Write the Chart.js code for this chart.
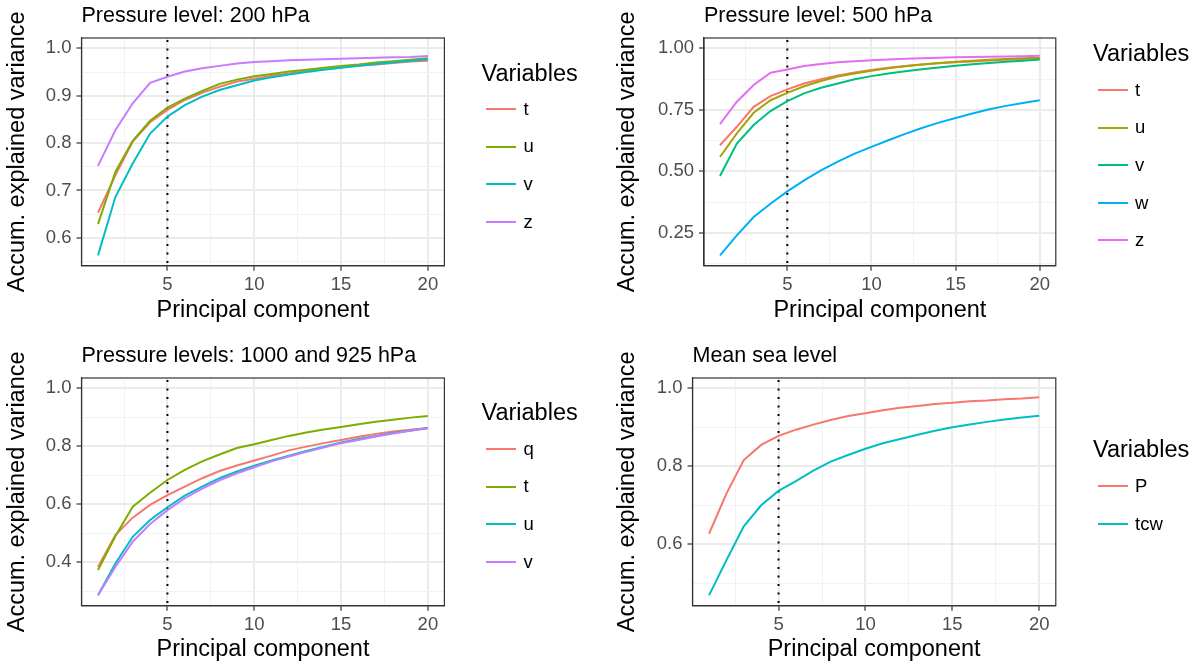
<!DOCTYPE html>
<html>
<head>
<meta charset="utf-8">
<script src="https://cdn.jsdelivr.net/npm/chart.js@4.4.1/dist/chart.umd.min.js"></script>
<style>
    body { margin: 0; background: #fff; font-family: 'Liberation Sans', Arial, sans-serif; }
    #wrap { position: relative; width: 1200px; height: 666px; overflow: hidden; }
    #wrap canvas { position: absolute; }
    .ptitle { position: absolute; font-size: 21.5px; line-height: 1; white-space: nowrap; color: #000; }
    .ltitle { position: absolute; font-size: 23.5px; line-height: 1; white-space: nowrap; color: #000; }
    .litem { position: absolute; height: 18.5px; line-height: 18.5px; font-size: 18.5px; white-space: nowrap; color: #000; }
    .litem span { position: absolute; top: 8.25px; width: 30px; height: 2px; }
</style>
</head>
<body>
<div id="wrap"></div>
<script>
'use strict';

var pcs = [1, 2, 3, 4, 5, 6, 7, 8, 9, 10, 11, 12, 13, 14, 15, 16, 17, 18, 19, 20];
var cutoffPC = 5;
var xTicks = ['5', '10', '15', '20'];

// Pressure level: 200 hPa
var vars200 = ['t', 'u', 'v', 'z'];
var t200 = [0.653, 0.732, 0.803, 0.844, 0.870, 0.891, 0.906, 0.919, 0.930, 0.936, 0.942, 0.947, 0.952, 0.956, 0.960, 0.963, 0.966, 0.969, 0.972, 0.974];
var u200 = [0.629, 0.739, 0.805, 0.847, 0.875, 0.894, 0.910, 0.925, 0.934, 0.941, 0.946, 0.951, 0.955, 0.959, 0.963, 0.966, 0.970, 0.973, 0.976, 0.979];
var v200 = [0.563, 0.686, 0.757, 0.820, 0.856, 0.880, 0.898, 0.912, 0.922, 0.932, 0.939, 0.945, 0.950, 0.955, 0.959, 0.963, 0.967, 0.970, 0.974, 0.977];
var z200 = [0.752, 0.827, 0.884, 0.927, 0.940, 0.951, 0.958, 0.963, 0.968, 0.971, 0.973, 0.975, 0.976, 0.977, 0.978, 0.979, 0.980, 0.981, 0.982, 0.984];
var yTicks200 = ['0.6', '0.7', '0.8', '0.9', '1.0'];

// Pressure level: 500 hPa
var vars500 = ['t', 'u', 'v', 'w', 'z'];
var t500 = [0.606, 0.681, 0.762, 0.806, 0.833, 0.857, 0.874, 0.890, 0.902, 0.912, 0.921, 0.928, 0.934, 0.939, 0.943, 0.947, 0.951, 0.954, 0.957, 0.959];
var u500 = [0.558, 0.654, 0.738, 0.789, 0.819, 0.846, 0.867, 0.885, 0.898, 0.909, 0.919, 0.927, 0.934, 0.940, 0.945, 0.950, 0.954, 0.957, 0.960, 0.962];
var v500 = [0.481, 0.613, 0.688, 0.745, 0.785, 0.817, 0.840, 0.857, 0.874, 0.887, 0.898, 0.907, 0.915, 0.922, 0.929, 0.935, 0.940, 0.945, 0.950, 0.955];
var w500 = [0.158, 0.239, 0.314, 0.368, 0.418, 0.463, 0.504, 0.539, 0.572, 0.599, 0.626, 0.652, 0.676, 0.698, 0.717, 0.735, 0.752, 0.766, 0.778, 0.789];
var z500 = [0.692, 0.783, 0.851, 0.901, 0.914, 0.928, 0.936, 0.943, 0.948, 0.952, 0.955, 0.958, 0.960, 0.962, 0.964, 0.965, 0.966, 0.967, 0.968, 0.970];
var yTicks500 = ['0.25', '0.50', '0.75', '1.00'];

// Pressure levels: 1000 and 925 hPa
var varsLow = ['q', 't', 'u', 'v'];
var qLow = [0.384, 0.494, 0.554, 0.598, 0.632, 0.661, 0.690, 0.715, 0.734, 0.751, 0.768, 0.786, 0.799, 0.811, 0.822, 0.833, 0.843, 0.851, 0.857, 0.863];
var tLow = [0.373, 0.490, 0.592, 0.640, 0.684, 0.719, 0.748, 0.772, 0.794, 0.807, 0.822, 0.836, 0.848, 0.858, 0.867, 0.876, 0.885, 0.892, 0.899, 0.905];
var uLow = [0.286, 0.396, 0.488, 0.546, 0.590, 0.630, 0.661, 0.690, 0.713, 0.733, 0.751, 0.768, 0.784, 0.799, 0.813, 0.825, 0.836, 0.846, 0.855, 0.863];
var vLow = [0.286, 0.384, 0.471, 0.532, 0.580, 0.621, 0.654, 0.683, 0.707, 0.728, 0.748, 0.765, 0.781, 0.796, 0.811, 0.822, 0.834, 0.844, 0.854, 0.862];
var yTicksLow = ['0.4', '0.6', '0.8', '1.0'];

// Mean sea level
var varsMsl = ['P', 'tcw'];
var pMsl = [0.627, 0.730, 0.816, 0.855, 0.878, 0.894, 0.907, 0.919, 0.929, 0.936, 0.944, 0.950, 0.955, 0.960, 0.963, 0.967, 0.969, 0.972, 0.974, 0.977];
var tcwMsl = [0.469, 0.559, 0.646, 0.700, 0.737, 0.762, 0.789, 0.812, 0.829, 0.845, 0.859, 0.870, 0.881, 0.891, 0.900, 0.907, 0.914, 0.920, 0.925, 0.930];
var yTicksMsl = ['0.6', '0.8', '1.0'];

// ggplot hue palettes
var hue2 = ['#F8766D', '#00BFC4'];
var hue4 = ['#F8766D', '#7CAE00', '#00BFC4', '#C77CFF'];
var hue5 = ['#F8766D', '#A3A500', '#00BF7D', '#00B0F6', '#E76BF3'];

var FONT = "'Liberation Sans', Arial, sans-serif";
Chart.defaults.font.family = FONT;

var panels = [
    {
        title: 'Pressure level: 200 hPa', names: vars200, series: [t200, u200, v200, z200], colors: hue4, yTicks: yTicks200,
        x: 0, y: 0, box: { left: 81.5, top: 38, right: 444.4, bottom: 265.7 }, yTitlePad: 5.5, xTitlePad: 11,
        legend: { left: 481.5, top: 61.8, key0: 109, step: 37.6 }
    },
    {
        title: 'Pressure level: 500 hPa', names: vars500, series: [t500, u500, v500, w500, z500], colors: hue5, yTicks: yTicks500,
        x: 600, y: 0, box: { left: 104, top: 38, right: 455.8, bottom: 265.7 }, yTitlePad: 15.5, xTitlePad: 11,
        legend: { left: 493, top: 41.8, key0: 90, step: 37.6 }
    },
    {
        title: 'Pressure levels: 1000 and 925 hPa', names: varsLow, series: [qLow, tLow, uLow, vLow], colors: hue4, yTicks: yTicksLow,
        x: 0, y: 333, box: { left: 81.5, top: 45, right: 444.4, bottom: 272.7 }, yTitlePad: 5.5, xTitlePad: 4.5,
        legend: { left: 481.5, top: 67.8, key0: 116, step: 37.6 }
    },
    {
        title: 'Mean sea level', names: varsMsl, series: [pMsl, tcwMsl], colors: hue2, yTicks: yTicksMsl,
        x: 600, y: 333, box: { left: 92.5, top: 45, right: 455.8, bottom: 272.7 }, yTitlePad: 15.5, xTitlePad: 4.5,
        legend: { left: 493, top: 105.1, key0: 153.3, step: 37.7 }
    }
];

var W = 600, H = 333;

function keyOf(v) { return v.toFixed(4); }

function buildTicks(labels, lo, hi) {
    var major = labels.map(parseFloat);
    var step = major[1] - major[0];
    var all = major.slice();
    for (var i = 0; i < major.length - 1; i++) all.push((major[i] + major[i + 1]) / 2);
    if (major[0] - step / 2 >= lo) all.push(major[0] - step / 2);
    if (major[major.length - 1] + step / 2 <= hi) all.push(major[major.length - 1] + step / 2);
    all.sort(function (a, b) { return a - b; });
    var map = {};
    major.forEach(function (v, i) { map[keyOf(v)] = labels[i]; });
    return { all: all, map: map };
}

var panelPlugin = {
    id: 'panelDeco',
    beforeDatasetsDraw: function (chart) {
        var a = chart.chartArea, ctx = chart.ctx;
        var px = chart.scales.x.getPixelForValue(cutoffPC);
        ctx.save();
        ctx.strokeStyle = '#000';
        ctx.lineWidth = 2;
        ctx.setLineDash([2, 6.5]);
        ctx.beginPath();
        ctx.moveTo(px, a.top + 2);
        ctx.lineTo(px, a.bottom);
        ctx.stroke();
        ctx.restore();
    },
    afterDatasetsDraw: function (chart) {
        var a = chart.chartArea, ctx = chart.ctx;
        ctx.save();
        ctx.strokeStyle = '#333333';
        ctx.lineWidth = 1.2;
        ctx.strokeRect(a.left, a.top, a.right - a.left, a.bottom - a.top);
        ctx.restore();
    }
};

function makePanel(p) {
    var wrap = document.getElementById('wrap');
    var canvas = document.createElement('canvas');
    canvas.width = W;
    canvas.height = H;
    canvas.style.left = p.x + 'px';
    canvas.style.top = p.y + 'px';
    wrap.appendChild(canvas);

    var lo = Math.min.apply(null, p.series.map(function (s) { return Math.min.apply(null, s); }));
    var hi = 1;
    var pad = (hi - lo) * 0.05;
    var yMin = lo - pad, yMax = hi + pad;
    var xPad = (pcs[pcs.length - 1] - pcs[0]) * 0.05;

    var yt = buildTicks(p.yTicks, yMin, yMax);
    var xt = buildTicks(xTicks, pcs[0] - xPad, pcs[pcs.length - 1] + xPad);

    var datasets = p.series.map(function (s, i) {
        return {
            label: p.names[i],
            data: pcs.map(function (x, j) { return { x: x, y: s[j] }; }),
            borderColor: p.colors[i],
            backgroundColor: p.colors[i],
            borderWidth: 2,
            pointRadius: 0,
            tension: 0,
            fill: false,
            order: p.series.length - i
        };
    });

    function gridOpts(map) {
        return {
            color: function (c) { return map[keyOf(c.tick.value)] ? '#EBEBEB' : '#F2F2F2'; },
            lineWidth: function (c) { return map[keyOf(c.tick.value)] ? 2 : 1; },
            tickLength: 5,
            tickWidth: 1.2,
            tickColor: function (c) { return map[keyOf(c.tick.value)] ? '#333333' : 'rgba(0,0,0,0)'; }
        };
    }

    var tickFont = { size: 18.5, family: FONT };
    var titleFont = { size: 23.5, family: FONT, lineHeight: 1 };

    new Chart(canvas, {
        type: 'line',
        data: { datasets: datasets },
        plugins: [panelPlugin],
        options: {
            responsive: false,
            animation: false,
            devicePixelRatio: 1,
            layout: { padding: { top: p.box.top, right: W - p.box.right, left: 0, bottom: 0 } },
            plugins: { legend: { display: false }, tooltip: { enabled: false }, title: { display: false } },
            scales: {
                x: {
                    type: 'linear',
                    min: pcs[0] - xPad,
                    max: pcs[pcs.length - 1] + xPad,
                    afterBuildTicks: function (s) { s.ticks = xt.all.map(function (v) { return { value: v }; }); },
                    afterFit: function (s) { s.height = H - p.box.bottom; },
                    ticks: {
                        autoSkip: false, maxRotation: 0, padding: 3, color: '#4D4D4D', font: tickFont,
                        callback: function (v) { return xt.map[keyOf(v)] || ''; }
                    },
                    grid: gridOpts(xt.map),
                    border: { display: true, color: '#333333', width: 1.2 },
                    title: { display: true, text: 'Principal component', color: '#000', font: titleFont, padding: { top: 0, bottom: p.xTitlePad } }
                },
                y: {
                    type: 'linear',
                    min: yMin,
                    max: yMax,
                    afterBuildTicks: function (s) { s.ticks = yt.all.map(function (v) { return { value: v }; }); },
                    afterFit: function (s) { s.width = p.box.left; },
                    ticks: {
                        autoSkip: false, padding: 5, color: '#4D4D4D', font: tickFont,
                        callback: function (v) { return yt.map[keyOf(v)] || ''; }
                    },
                    grid: gridOpts(yt.map),
                    border: { display: true, color: '#333333', width: 1.2 },
                    title: { display: true, text: 'Accum. explained variance', color: '#000', font: titleFont, padding: { top: p.yTitlePad, bottom: 0 } }
                }
            }
        }
    });

    // panel title
    var t = document.createElement('div');
    t.className = 'ptitle';
    t.textContent = p.title;
    t.style.left = (p.x + p.box.left) + 'px';
    t.style.top = (p.y + p.box.top - 33) + 'px';
    wrap.appendChild(t);

    // legend
    var lt = document.createElement('div');
    lt.className = 'ltitle';
    lt.textContent = 'Variables';
    lt.style.left = (p.x + p.legend.left) + 'px';
    lt.style.top = (p.y + p.legend.top) + 'px';
    wrap.appendChild(lt);

    p.names.forEach(function (name, i) {
        var item = document.createElement('div');
        item.className = 'litem';
        item.style.left = (p.x + p.legend.left + 4.5) + 'px';
        item.style.top = (p.y + p.legend.key0 + i * p.legend.step - 9.25) + 'px';
        item.style.paddingLeft = '37.5px';
        var key = document.createElement('span');
        key.style.left = '0px';
        key.style.background = p.colors[i];
        item.appendChild(key);
        item.appendChild(document.createTextNode(name));
        wrap.appendChild(item);
    });
}

panels.forEach(makePanel);
</script>
</body>
</html>
